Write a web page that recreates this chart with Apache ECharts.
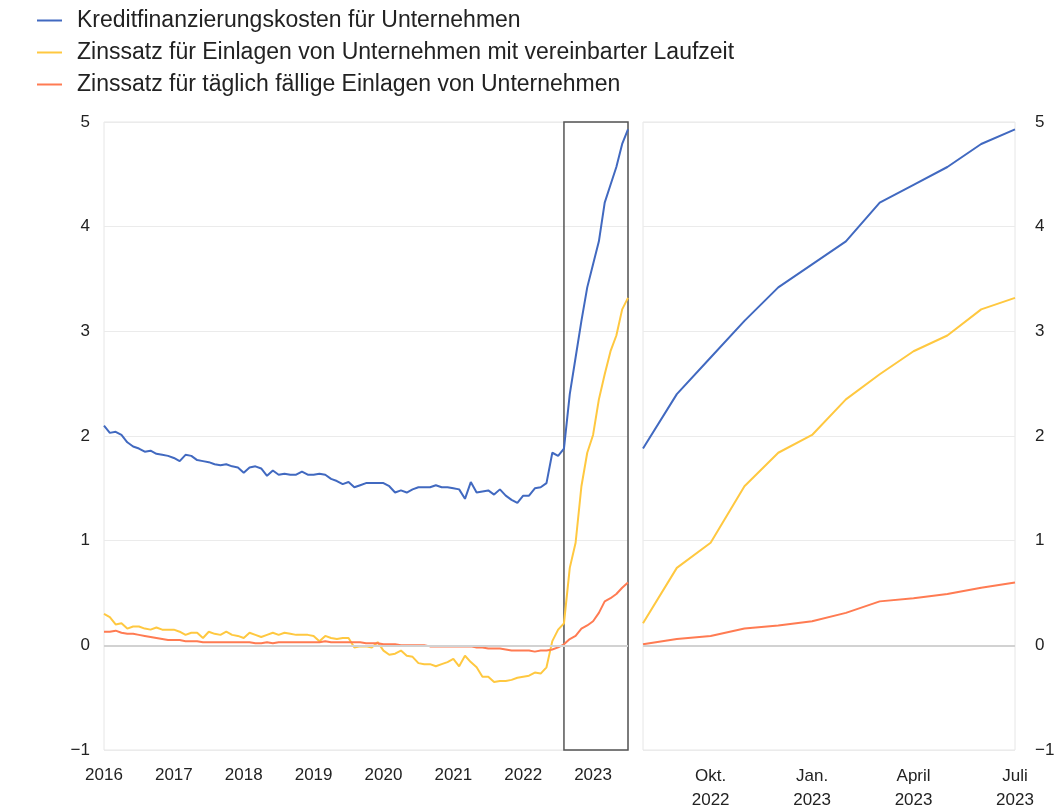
<!DOCTYPE html>
<html>
<head>
<meta charset="utf-8">
<script src="https://cdn.jsdelivr.net/npm/echarts@6/dist/echarts.min.js"></script>
<style>
  html, body { margin: 0; padding: 0; background: #fff; }
  #main { width: 1059px; height: 812px; }
</style>
</head>
<body>
<div id="main"></div>
<script>
// Reihen (Monatswerte Jan. 2016 bis Juli 2023)
var nameKredit = 'Kreditfinanzierungskosten für Unternehmen'
var nameLaufzeit = 'Zinssatz für Einlagen von Unternehmen mit vereinbarter Laufzeit'
var nameTaeglich = 'Zinssatz für täglich fällige Einlagen von Unternehmen'

var kredit = [
  2.10, 2.03, 2.04, 2.01, 1.94, 1.90, 1.88, 1.85, 1.86, 1.83, 1.82, 1.81,
  1.79, 1.76, 1.82, 1.81, 1.77, 1.76, 1.75, 1.73, 1.72, 1.73, 1.71, 1.70,
  1.65, 1.70, 1.71, 1.69, 1.62, 1.67, 1.63, 1.64, 1.63, 1.63, 1.66, 1.63,
  1.63, 1.64, 1.63, 1.59, 1.57, 1.54, 1.56, 1.51, 1.53, 1.55, 1.55, 1.55,
  1.55, 1.52, 1.46, 1.48, 1.46, 1.49, 1.51, 1.51, 1.51, 1.53, 1.51, 1.51,
  1.50, 1.49, 1.40, 1.56, 1.46, 1.47, 1.48, 1.44, 1.49, 1.43, 1.39, 1.36,
  1.43, 1.43, 1.50, 1.51, 1.55, 1.84, 1.81,
  1.88, 2.40, 2.75, 3.10, 3.42, 3.64, 3.86, 4.23, 4.40, 4.57, 4.79, 4.93
]
var laufzeit = [
  0.30, 0.27, 0.20, 0.21, 0.16, 0.18, 0.18, 0.16, 0.15, 0.17, 0.15, 0.15,
  0.15, 0.13, 0.10, 0.12, 0.12, 0.07, 0.13, 0.11, 0.10, 0.13, 0.10, 0.09,
  0.07, 0.12, 0.10, 0.08, 0.10, 0.12, 0.10, 0.12, 0.11, 0.10, 0.10, 0.10,
  0.09, 0.04, 0.09, 0.07, 0.06, 0.07, 0.07, -0.02, -0.01, -0.01, -0.02, 0.03,
  -0.05, -0.09, -0.08, -0.05, -0.10, -0.11, -0.17, -0.18, -0.18, -0.20, -0.18, -0.16,
  -0.13, -0.20, -0.10, -0.16, -0.21, -0.30, -0.30, -0.35, -0.34, -0.34, -0.33, -0.31,
  -0.30, -0.29, -0.26, -0.27, -0.21, 0.04, 0.15,
  0.21, 0.74, 0.98, 1.52, 1.84, 2.01, 2.35, 2.59, 2.81, 2.96, 3.21, 3.32
]
var taeglich = [
  0.13, 0.13, 0.14, 0.12, 0.11, 0.11, 0.10, 0.09, 0.08, 0.07, 0.06, 0.05,
  0.05, 0.05, 0.04, 0.04, 0.04, 0.03, 0.03, 0.03, 0.03, 0.03, 0.03, 0.03,
  0.03, 0.03, 0.02, 0.02, 0.03, 0.02, 0.03, 0.03, 0.03, 0.03, 0.03, 0.03,
  0.03, 0.03, 0.04, 0.03, 0.03, 0.03, 0.03, 0.03, 0.03, 0.02, 0.02, 0.02,
  0.01, 0.01, 0.01, 0.00, 0.00, 0.00, 0.00, 0.00, -0.01, -0.01, -0.01, -0.01,
  -0.01, -0.01, -0.01, -0.01, -0.02, -0.02, -0.03, -0.03, -0.03, -0.04, -0.05, -0.05,
  -0.05, -0.05, -0.06, -0.05, -0.05, -0.04, -0.02,
  0.01, 0.06, 0.09, 0.16, 0.19, 0.23, 0.31, 0.42, 0.45, 0.49, 0.55, 0.60
]

// Monate
var monate = []
for (var y = 2016; y <= 2023; y++) {
  for (var m = 1; m <= 12; m++) {
    if (y === 2023 && m > 7) break
    monate.push(y + '-' + (m < 10 ? '0' + m : m))
  }
}
// Ausschnitt rechts: Aug. 2022 bis Juli 2023
var startZoom = monate.indexOf('2022-08')
var monateZoom = monate.slice(startZoom)
var zoomLabels = {
  '2022-10': 'Okt.\n2022',
  '2023-01': 'Jan.\n2023',
  '2023-04': 'April\n2023',
  '2023-07': 'Juli\n2023'
}

var farben = ['#4169c0', '#ffc840', '#ff7b52']
var schrift = 'Arial, "Liberation Sans", sans-serif'

function yAchse(grid, pos, margin) {
  return {
    type: 'value', gridIndex: grid, position: pos,
    min: -1, max: 5, interval: 1,
    axisLine: { show: false }, axisTick: { show: false },
    axisLabel: {
      fontSize: 17, color: '#222', fontFamily: schrift, margin: margin,
      formatter: function (v) { return v < 0 ? '\u2212' + Math.abs(v) : v }
    },
    splitLine: { lineStyle: { color: '#ebebeb', width: 1 } }
  }
}

var nullLinie = {
  silent: true, symbol: 'none', label: { show: false },
  lineStyle: { color: '#d2d2d2', width: 2, type: 'solid' },
  data: [{ yAxis: 0 }]
}

function linie(name, daten, farbe, x, extra) {
  return Object.assign({
    name: name, type: 'line', xAxisIndex: x, yAxisIndex: x,
    data: daten, showSymbol: false, symbol: 'none',
    lineStyle: { color: farbe, width: 2 }, itemStyle: { color: farbe },
    animation: false
  }, extra || {})
}

var chart = echarts.init(document.getElementById('main'))
chart.setOption({
  animation: false,
  textStyle: { fontFamily: schrift },
  legend: {
    orient: 'vertical', left: 37, top: 9, itemGap: 9, padding: 0,
    icon: 'rect', itemWidth: 25, itemHeight: 2,
    textStyle: { fontSize: 23, color: '#222', fontFamily: schrift, padding: [0, 0, 0, 10] },
    data: [nameKredit, nameLaufzeit, nameTaeglich]
  },
  grid: [
    { left: 104, right: 431, top: 122, bottom: 62, show: true, borderColor: '#e6e6e6', borderWidth: 1 },
    { left: 643, right: 44, top: 122, bottom: 62, show: true, borderColor: '#e6e6e6', borderWidth: 1 }
  ],
  xAxis: [
    {
      type: 'category', gridIndex: 0, data: monate, boundaryGap: false,
      axisLine: { show: false }, axisTick: { show: false }, splitLine: { show: false },
      axisLabel: {
        fontSize: 17, color: '#222', fontFamily: schrift, margin: 17,
        interval: function (i, v) { return v.slice(5) === '01' },
        formatter: function (v) { return v.slice(0, 4) }
      }
    },
    {
      type: 'category', gridIndex: 1, data: monateZoom, boundaryGap: false,
      axisLine: { show: false }, axisTick: { show: false }, splitLine: { show: false },
      axisLabel: {
        fontSize: 17, color: '#222', fontFamily: schrift, margin: 14, lineHeight: 24,
        interval: function (i, v) { return !!zoomLabels[v] },
        formatter: function (v) { return zoomLabels[v] || '' }
      }
    }
  ],
  yAxis: [yAchse(0, 'left', 14), yAchse(1, 'right', 20)],
  series: [
    linie(nameKredit, kredit, farben[0], 0, {
      markLine: nullLinie,
      markArea: {
        silent: true,
        itemStyle: { color: 'rgba(0,0,0,0)', borderColor: '#555', borderWidth: 1.5 },
        data: [[{ xAxis: '2022-08', yAxis: 5 }, { xAxis: '2023-07', yAxis: -1 }]]
      }
    }),
    linie(nameLaufzeit, laufzeit, farben[1], 0),
    linie(nameTaeglich, taeglich, farben[2], 0),
    linie(nameKredit, kredit.slice(startZoom), farben[0], 1, { markLine: nullLinie }),
    linie(nameLaufzeit, laufzeit.slice(startZoom), farben[1], 1),
    linie(nameTaeglich, taeglich.slice(startZoom), farben[2], 1)
  ]
})
</script>
</body>
</html>
